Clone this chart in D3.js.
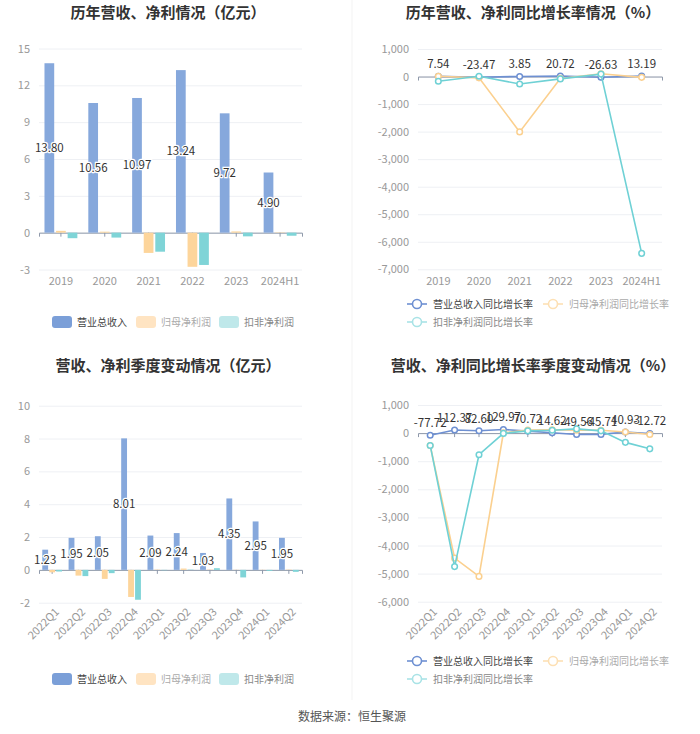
<!DOCTYPE html>
<html>
<head>
<meta charset="utf-8">
<script src="https://cdn.jsdelivr.net/npm/d3@7"></script>
<style>
  body { margin: 0; background: #fff; }
  svg { display: block; font-family: "Noto Sans CJK SC", "Noto Sans", sans-serif; }
</style>
</head>
<body>
<svg id="chart" width="700" height="734"></svg>
<script>
// données
const years = ['2019', '2020', '2021', '2022', '2023', '2024H1'];
const revenueYear = [13.80, 10.56, 10.97, 13.24, 9.72, 4.90];
const netProfitYear = [0.15, 0.08, -1.65, -2.78, 0.10, 0.03];
const deductedYear = [-0.45, -0.40, -1.55, -2.63, -0.30, -0.25];
const revGrowthYear = [7.54, -23.47, 3.85, 20.72, -26.63, 13.19];
const npGrowthYear = [10, -47, -2010, -68, 103, -30];
const dedGrowthYear = [-170, 11, -270, -85, 88, -6420];

const quarters = ['2022Q1', '2022Q2', '2022Q3', '2022Q4', '2023Q1', '2023Q2', '2023Q3', '2023Q4', '2024Q1', '2024Q2'];
const revenueQ = [1.23, 1.95, 2.05, 8.01, 2.09, 2.24, 1.03, 4.35, 2.95, 1.95];
const netProfitQ = [-0.15, -0.35, -0.55, -1.65, 0.02, 0.08, 0.02, 0.01, 0.01, 0.02];
const deductedQ = [-0.10, -0.38, -0.20, -1.82, -0.02, 0.02, 0.10, -0.46, -0.06, -0.12];
const revGrowthQ = [-77.72, 112.37, 82.60, 129.97, 70.72, 14.62, -49.56, -45.71, 40.93, -12.72];
const npGrowthQ = [-440, -4450, -5100, 10, 110, 120, 105, 100, 40, -50];
const dedGrowthQ = [-440, -4750, -770, -10, 80, 100, 150, 80, -330, -560];

const ticksYearBar = [-3, 0, 3, 6, 9, 12, 15];
const ticksYearRate = [-7000, -6000, -5000, -4000, -3000, -2000, -1000, 0, 1000];
const ticksQBar = [-2, 0, 2, 4, 6, 8, 10];
const ticksQRate = [-6000, -5000, -4000, -3000, -2000, -1000, 0, 1000];

const barNames = ['营业总收入', '归母净利润', '扣非净利润'];
const rateNames = ['营业总收入同比增长率', '归母净利润同比增长率', '扣非净利润同比增长率'];

const barColors = ['#86a8dc', '#fdd59b', '#7fd4d7'];
const lineColors = ['#6e90d2', '#fbd08f', '#6fd1d5'];
const legendBarColors = ['#7b9fd8', '#ffe4c2', '#bfe8ea'];
const legendTextColors = ['#444', '#aaa', '#888'];

const svg = d3.select('#chart');
const locale = d3.formatLocale({ decimal: '.', thousands: ',', grouping: [3], currency: ['', ''], minus: '-' });
const fmt = locale.format(',');
const fmt2 = locale.format('.2f');

// séparateur vertical
svg.append('line').attr('x1', 352).attr('x2', 352).attr('y1', 0).attr('y2', 700)
  .attr('stroke', '#f3f3f3');

function title(text, x, y) {
  svg.append('text').attr('x', x).attr('y', y).attr('text-anchor', 'middle')
    .attr('dy', '0.35em').attr('font-size', 15).attr('font-weight', 'bold')
    .attr('fill', '#333').text(text);
}

// axes communs: grille, étiquettes y, ligne du zéro, étiquettes x
function drawAxes(g, x, y, ticks, rotate, bottom) {
  const [x0, x1] = x.range();
  const grid = g.append('g').attr('transform', `translate(${x0},0)`)
    .call(d3.axisLeft(y).tickValues(ticks).tickSize(-(x1 - x0)).tickFormat(fmt));
  grid.select('.domain').remove();
  grid.selectAll('line').attr('stroke', '#eef0f4');
  grid.selectAll('text').attr('x', -9).attr('fill', '#999').attr('font-size', 11)
    .attr('font-family', '"Noto Sans CJK SC", sans-serif');

  const zero = g.append('g').attr('transform', `translate(0,${y(0)})`)
    .call(d3.axisBottom(x).tickSize(4).tickFormat(''));
  zero.selectAll('path,line').attr('stroke', '#8f99aa');

  const lab = g.append('g').attr('transform', `translate(0,${bottom})`)
    .call(d3.axisBottom(x).tickSize(0));
  lab.select('.domain').remove();
  lab.selectAll('text').attr('fill', '#999').attr('font-size', 11)
    .attr('font-family', '"Noto Sans CJK SC", sans-serif');
  if (rotate) {
    lab.selectAll('text').attr('text-anchor', 'end')
      .attr('transform', 'translate(5,6) rotate(-45)').attr('y', 0).attr('dy', '0.35em');
  } else {
    lab.selectAll('text').attr('y', 7);
  }
}

function barPanel(cats, seriesVals, xr, domain, yr, ticks, rotate, bottom) {
  const g = svg.append('g');
  const x = d3.scaleBand().domain(cats).range(xr).padding(0);
  const y = d3.scaleLinear().domain(domain).range(yr);
  drawAxes(g, x, y, ticks, rotate, bottom);

  const half = x.bandwidth() * 0.375;
  const inner = d3.scaleBand().domain([0, 1, 2]).range([-half, half]).paddingInner(0.16);

  seriesVals.forEach((vals, si) => {
    g.append('g').selectAll('rect').data(vals).enter().append('rect')
      .attr('x', (d, i) => x(cats[i]) + x.bandwidth() / 2 + inner(si))
      .attr('y', d => Math.min(y(d), y(0)))
      .attr('width', inner.bandwidth())
      .attr('height', d => Math.abs(y(d) - y(0)))
      .attr('fill', barColors[si]);
  });

  // étiquettes au milieu des barres principales
  g.append('g').selectAll('text').data(seriesVals[0]).enter().append('text')
    .attr('x', (d, i) => x(cats[i]) + x.bandwidth() / 2 + inner(0) + inner.bandwidth() / 2)
    .attr('y', d => (y(d) + y(0)) / 2)
    .attr('dy', '0.35em').attr('text-anchor', 'middle')
    .attr('font-size', 11.5).attr('fill', '#333')
    .attr('stroke', '#fff').attr('stroke-width', 2.5).attr('paint-order', 'stroke')
    .text(d => fmt2(d));
}

function linePanel(cats, seriesVals, xr, domain, yr, ticks, rotate, bottom) {
  const g = svg.append('g');
  const x = d3.scaleBand().domain(cats).range(xr).padding(0);
  const y = d3.scaleLinear().domain(domain).range(yr);
  drawAxes(g, x, y, ticks, rotate, bottom);
  const cx = (d, i) => x(cats[i]) + x.bandwidth() / 2;

  seriesVals.forEach((vals, si) => {
    const line = d3.line().x(cx).y(d => y(d));
    g.append('path').datum(vals).attr('d', line).attr('fill', 'none')
      .attr('stroke', lineColors[si]).attr('stroke-width', 1.6);
    g.append('g').selectAll('circle').data(vals).enter().append('circle')
      .attr('cx', cx).attr('cy', d => y(d)).attr('r', 2.8)
      .attr('fill', '#fff').attr('stroke', lineColors[si]).attr('stroke-width', 1.5);
  });

  g.append('g').selectAll('text').data(seriesVals[0]).enter().append('text')
    .attr('x', cx).attr('y', d => y(d) - 8)
    .attr('text-anchor', 'middle').attr('font-size', 11.5).attr('fill', '#333')
    .text(d => fmt2(d));
}

function barLegend(yc) {
  const xs = [[52, 77], [136, 161], [219, 244]];
  barNames.forEach((name, i) => {
    svg.append('rect').attr('x', xs[i][0]).attr('y', yc - 6).attr('width', 20).attr('height', 12)
      .attr('rx', 3).attr('fill', legendBarColors[i]);
    svg.append('text').attr('x', xs[i][1]).attr('y', yc).attr('dy', '0.35em')
      .attr('font-size', 10).attr('fill', legendTextColors[i]).text(name);
  });
}

function lineLegend(yc) {
  const pos = [[407, yc - 18], [543, yc - 18], [407, yc]];
  const iconColors = ['#6e90d2', '#fde0b4', '#a9e3e6'];
  rateNames.forEach((name, i) => {
    const [px, py] = pos[i];
    svg.append('line').attr('x1', px).attr('x2', px + 20).attr('y1', py).attr('y2', py)
      .attr('stroke', iconColors[i]).attr('stroke-width', 1.6);
    svg.append('circle').attr('cx', px + 10).attr('cy', py).attr('r', 4.5)
      .attr('fill', '#fff').attr('stroke', iconColors[i]).attr('stroke-width', 1.6);
    svg.append('text').attr('x', px + 26).attr('y', py).attr('dy', '0.35em')
      .attr('font-size', 10).attr('fill', legendTextColors[i]).text(name);
  });
}

title('历年营收、净利情况（亿元）', 168, 13);
title('历年营收、净利同比增长率情况（%）', 533, 13);
title('营收、净利季度变动情况（亿元）', 168, 366);
title('营收、净利同比增长率季度变动情况（%）', 533, 366);

barPanel(years, [revenueYear, netProfitYear, deductedYear], [39, 302], [-3, 15], [269.5, 48.5], ticksYearBar, false, 270);
linePanel(years, [revGrowthYear, npGrowthYear, dedGrowthYear], [418, 662], [-7000, 1000], [269.3, 49], ticksYearRate, false, 270);
barPanel(quarters, [revenueQ, netProfitQ, deductedQ], [39, 302], [-2, 10], [602.7, 405.7], ticksQBar, true, 604);
linePanel(quarters, [revGrowthQ, npGrowthQ, dedGrowthQ], [418, 662], [-6000, 1000], [601.7, 405], ticksQRate, true, 604);

barLegend(322);
lineLegend(322);
barLegend(679);
lineLegend(679);

svg.append('text').attr('x', 352).attr('y', 717).attr('dy', '0.35em').attr('text-anchor', 'middle')
  .attr('font-size', 12).attr('fill', '#555').text('数据来源：恒生聚源');
</script>
</body>
</html>
